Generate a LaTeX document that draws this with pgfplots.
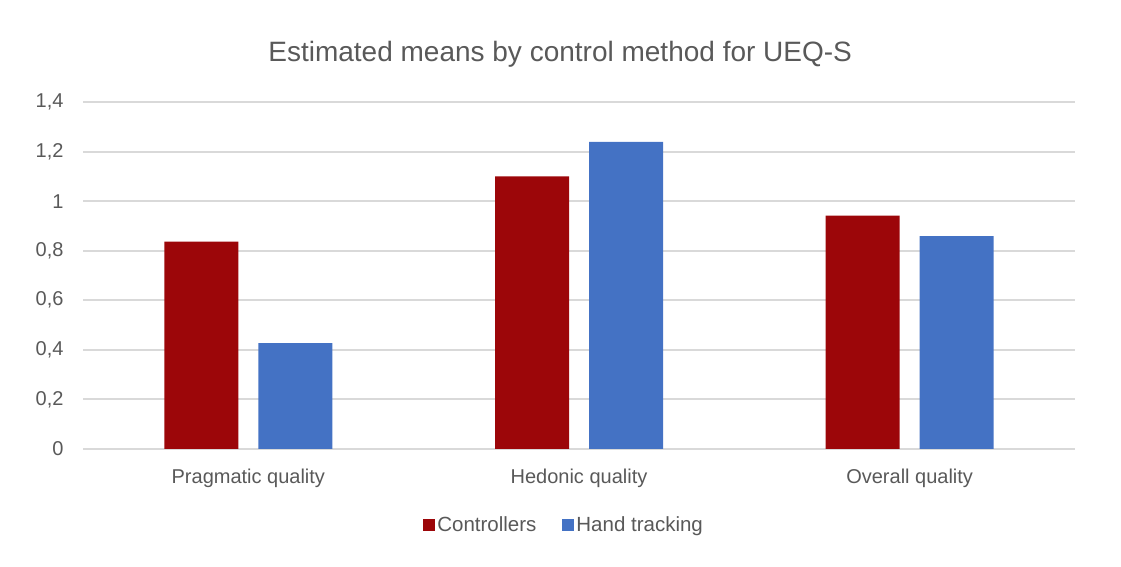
\documentclass[border=0pt]{standalone}
\usepackage{pgfplots}
\pgfplotsset{compat=1.18}
\usepackage{fontspec}
\setmainfont{Liberation Sans}
\definecolor{ctrl}{HTML}{9C0609}
\definecolor{hand}{HTML}{4472C4}
\definecolor{txt}{HTML}{595959}
\definecolor{grd}{HTML}{D9D9D9}
\begin{document}
\begin{tikzpicture}
\path[use as bounding box] (0,0) rectangle (1121pt,567pt);
\begin{axis}[
  at={(83pt,118pt)}, anchor=south west,
  scale only axis, width=992pt, height=347pt,
  ybar=20pt, bar width=74pt,
  xmin=-0.5, xmax=2.5, ymin=0, ymax=1.4,
  xtick={0,1,2},
  xticklabels={Pragmatic quality,Hedonic quality,Overall quality},
  ytick={0,0.2,0.4,0.6,0.8,1,1.2,1.4},
  /pgf/number format/use comma,
  /pgf/number format/assume math mode=true,
  ymajorgrids, grid style={grd, line width=2pt},
  axis line style={draw=none},
  major tick length=0pt,
  tick label style={font=\fontsize{20}{23}\selectfont, text=txt},
  yticklabel style={xshift=-16pt},
  xticklabel style={yshift=-16pt},
  title={Estimated means by control method for UEQ-S},
  title style={at={(0.481,1)}, anchor=center, yshift=42pt, font=\fontsize{28}{32}\selectfont, text=txt},
  legend style={at={(0.485,-0.219)}, anchor=center, draw=none, legend columns=2,
    font=\fontsize{20.5}{23}\selectfont, text=txt,
    /tikz/every even column/.append style={column sep=24pt}},
  legend image code/.code={\fill[#1] (2pt,-6pt) rectangle (14pt,6pt);},
]
\addplot[fill=ctrl, draw=none] coordinates {(0,0.837) (1,1.100) (2,0.942)};
\addplot[fill=hand, draw=none] coordinates {(0,0.427) (1,1.239) (2,0.859)};
\legend{Controllers, Hand tracking}
\end{axis}
\end{tikzpicture}
\end{document}
